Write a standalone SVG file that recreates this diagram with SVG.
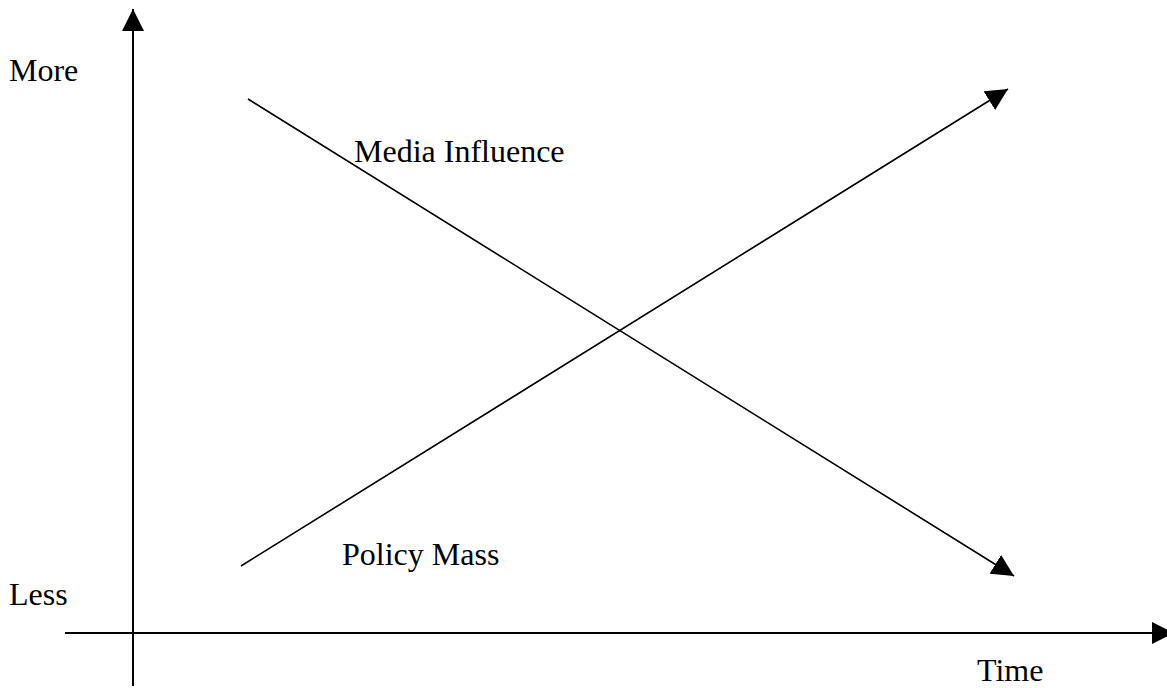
<svg xmlns="http://www.w3.org/2000/svg" width="1167" height="688" viewBox="0 0 1167 688">
<style>
.ln{stroke:#000;fill:none}
.ax{stroke-width:2}
.dg{stroke-width:1.6}
text{font-family:"Liberation Serif","Times New Roman",serif;font-size:32px;fill:#000}
</style>
<defs>
<marker id="ah" markerUnits="userSpaceOnUse" markerWidth="22" markerHeight="22" viewBox="0 0 20 20" refX="20" refY="10" orient="auto">
<path d="M0,0 L20,10 L0,20 Z" fill="#000"/>
</marker>
</defs>
<rect width="1167" height="688" fill="#fff"/>
<g id="connectors">
<line id="y-axis" class="ln ax" x1="133" y1="686" x2="133" y2="9" marker-end="url(#ah)"/>
<line id="x-axis" class="ln ax" x1="65" y1="633" x2="1174" y2="633" marker-end="url(#ah)"/>
<line id="media-line" class="ln dg" x1="248" y1="99" x2="1014" y2="576" marker-end="url(#ah)"/>
<line id="policy-line" class="ln dg" x1="241" y1="566" x2="1008" y2="89" marker-end="url(#ah)"/>
</g>
<g id="label-more"><text x="9" y="81">More</text></g>
<g id="label-less"><text x="9" y="605">Less</text></g>
<g id="label-media"><text x="354" y="162">Media Influence</text></g>
<g id="label-policy"><text x="342" y="565">Policy Mass</text></g>
<g id="label-time"><text x="977" y="681">Time</text></g>
</svg>
